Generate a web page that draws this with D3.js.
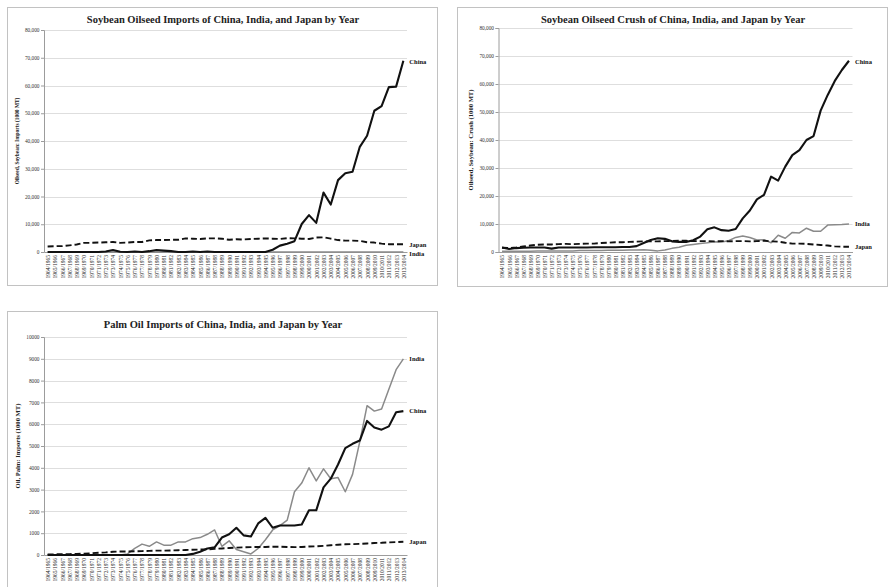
<!DOCTYPE html>
<html>
<head>
<meta charset="utf-8">
<script src="https://cdn.jsdelivr.net/npm/d3@7"></script>
<style>
  body { margin: 0; background: #fff; }
  svg { display: block; font-family: "Liberation Serif", "Times New Roman", serif; }
  svg text { font-family: "Liberation Serif", "Times New Roman", serif; }
</style>
</head>
<body>
<svg id="chart" width="889" height="587"></svg>
<script>
// Marketing years shown on every category axis
const marketingYears = [
  "1964/1965","1965/1966","1966/1967","1967/1968","1968/1969","1969/1970","1970/1971","1971/1972","1972/1973","1973/1974",
  "1974/1975","1975/1976","1976/1977","1977/1978","1978/1979","1979/1980","1980/1981","1981/1982","1982/1983","1983/1984",
  "1984/1985","1985/1986","1986/1987","1987/1988","1988/1989","1989/1990","1990/1991","1991/1992","1992/1993","1993/1994",
  "1994/1995","1995/1996","1996/1997","1997/1998","1998/1999","1999/2000","2000/2001","2001/2002","2002/2003","2003/2004",
  "2004/2005","2005/2006","2006/2007","2007/2008","2008/2009","2009/2010","2010/2011","2011/2012","2012/2013","2013/2014"
];

// Soybean oilseed imports, 1000 MT
const soyImportChina = [
  0,0,0,0,0,0,0,0,200,700,
  100,0,200,0,300,700,500,300,0,0,
  200,0,200,0,0,0,0,0,0,0,
  0,800,2300,3000,3900,10100,13300,10500,21400,17100,
  25900,28400,28900,37900,41900,50900,52600,59400,59600,68900
];
const soyImportIndia = [
  0,0,0,0,0,0,0,0,0,0,
  0,0,0,0,0,0,0,0,0,0,
  0,0,0,0,0,0,0,0,0,0,
  0,0,0,0,0,0,0,0,0,0,
  0,0,0,0,0,0,0,0,0,0
];
const soyImportJapan = [
  2000,2100,2100,2400,2700,3300,3300,3400,3500,3600,
  3300,3400,3600,3600,4200,4300,4300,4400,4400,4900,
  4800,4700,4900,4900,4800,4400,4600,4500,4700,4800,
  4900,4800,4700,5000,4900,4800,4700,5200,5300,4800,
  4300,4100,4100,4000,3500,3400,3000,2800,2800,2800
];

// Soybean oilseed crush, 1000 MT
const soyCrushChina = [
  1600,1100,1400,1500,1600,1600,1600,1200,1600,1600,
  1600,1600,1600,1700,1700,1700,1700,1800,1800,2100,
  3200,4300,4900,4700,3800,3600,3600,4200,5500,8100,
  8800,7800,7600,8200,12000,14800,18800,20400,26900,25500,
  30500,34600,36400,40000,41400,50500,56100,61100,65000,68300
];
const soyCrushIndia = [
  300,300,300,300,300,400,400,400,400,400,
  400,500,500,500,500,600,600,600,700,700,
  800,600,400,700,1300,1700,2400,2700,3000,3300,
  3700,3600,4000,5200,5700,5200,4300,4400,3300,6000,
  4900,7000,6800,8500,7400,7400,9600,9700,9800,10000
];
const soyCrushJapan = [
  1500,1400,1600,2000,2300,2600,2700,2700,2800,2900,
  2800,2900,3000,3000,3200,3300,3500,3500,3600,3700,
  3800,3800,3800,3900,3900,4000,4000,3900,3900,3900,
  3800,3900,3800,3900,3900,3800,3900,4000,3800,3700,
  3300,3000,3000,2900,2700,2500,2300,2000,1900,1900
];

// Palm oil imports, 1000 MT
const palmImportChina = [
  0,0,0,0,0,0,0,0,0,0,
  0,0,0,0,0,0,0,0,0,0,
  50,150,300,350,800,950,1250,900,850,1450,
  1700,1250,1350,1350,1350,1400,2050,2050,3100,3500,
  4150,4900,5100,5250,6150,5850,5750,5900,6550,6600
];
const palmImportIndia = [
  0,0,0,0,0,0,0,0,0,0,
  0,50,300,500,400,600,450,450,600,600,
  750,800,950,1150,400,650,250,150,50,300,
  700,1150,1350,1600,2900,3300,4000,3400,3950,3500,
  3550,2900,3700,5200,6850,6600,6700,7600,8500,9000
];
const palmImportJapan = [
  30,30,40,40,50,60,80,100,120,150,
  160,160,170,180,190,200,200,210,220,230,
  240,250,260,280,300,320,340,350,360,370,
  370,380,380,370,360,370,390,400,420,450,
  470,490,500,510,530,550,560,580,590,610
];

// Value-axis ticks
const soyTicks = [0,10000,20000,30000,40000,50000,60000,70000,80000];
const palmTicks = [0,1000,2000,3000,4000,5000,6000,7000,8000,9000,10000];

const serif = "Liberation Serif, Times New Roman, serif";
const svg = d3.select("#chart");

const styleChina = { color: "#111", width: 2.1, dash: null };
const styleIndia = { color: "#8a8a8a", width: 1.5, dash: null };
const styleJapan = { color: "#111", width: 1.9, dash: "6,3" };

const panels = [
  {
    title: "Soybean Oilseed Imports of China, India, and Japan by Year",
    titleX: 223, titleY: 23,
    yLabel: "Oilseed, Soybean: Imports (1000 MT)", yLabelX: 17, yLabelSize: 5.4,
    box: [7, 7, 430, 278],
    xRange: [44, 407], yRange: [252, 30], yMax: 80000,
    ticks: soyTicks, fmt: d3.format(","),
    series: [
      { name: "India", values: soyImportIndia, style: styleIndia, dy: 1.5 },
      { name: "Japan", values: soyImportJapan, style: styleJapan, dy: 0 },
      { name: "China", values: soyImportChina, style: styleChina, dy: 1 }
    ]
  },
  {
    title: "Soybean Oilseed Crush of China, India, and Japan by Year",
    titleX: 673, titleY: 23,
    yLabel: "Oilseed, Soybean: Crush (1000 MT)", yLabelX: 470.5, yLabelSize: 6.6,
    box: [457, 7, 430, 279],
    xRange: [498.5, 852.5], yRange: [252, 28], yMax: 80000,
    ticks: soyTicks, fmt: d3.format(","),
    series: [
      { name: "India", values: soyCrushIndia, style: styleIndia, dy: 0 },
      { name: "Japan", values: soyCrushJapan, style: styleJapan, dy: 0 },
      { name: "China", values: soyCrushChina, style: styleChina, dy: 1 }
    ]
  },
  {
    title: "Palm Oil Imports of China, India, and Japan by Year",
    titleX: 223, titleY: 328,
    yLabel: "Oil, Palm: Imports (1000 MT)", yLabelX: 18, yLabelSize: 6.6,
    box: [7, 311, 430, 300],
    xRange: [44, 407], yRange: [555, 337], yMax: 10000,
    ticks: palmTicks, fmt: d3.format("d"),
    series: [
      { name: "India", values: palmImportIndia, style: styleIndia, dy: 0 },
      { name: "Japan", values: palmImportJapan, style: styleJapan, dy: 0 },
      { name: "China", values: palmImportChina, style: styleChina, dy: 0 }
    ]
  }
];

function drawPanel(p) {
  const g = svg.append("g");

  g.append("rect")
    .attr("x", p.box[0] + 0.5).attr("y", p.box[1] + 0.5)
    .attr("width", p.box[2]).attr("height", p.box[3])
    .attr("fill", "#fff").attr("stroke", "#c2c2c2").attr("stroke-width", 1);

  const x = d3.scalePoint().domain(marketingYears).range(p.xRange).padding(0.5);
  const y = d3.scaleLinear().domain([0, p.yMax]).range(p.yRange);

  // horizontal gridlines
  g.append("g").selectAll("line")
    .data(p.ticks.slice(1))
    .join("line")
    .attr("x1", p.xRange[0]).attr("x2", p.xRange[1])
    .attr("y1", d => Math.round(y(d)) + 0.5).attr("y2", d => Math.round(y(d)) + 0.5)
    .attr("stroke", "#dedede").attr("stroke-width", 1);

  // value axis
  const ya = g.append("g")
    .attr("transform", `translate(${p.xRange[0]},0)`)
    .call(d3.axisLeft(y).tickValues(p.ticks).tickFormat(p.fmt).tickSize(3).tickPadding(1.5));
  ya.attr("font-family", serif);
  ya.select(".domain").attr("stroke", "#9c9c9c");
  ya.selectAll(".tick line").attr("stroke", "#9c9c9c");
  ya.selectAll(".tick text")
    .attr("font-size", 5.3).attr("fill", "#333")
    .attr("font-family", serif);

  // category axis
  const xa = g.append("g")
    .attr("transform", `translate(0,${p.yRange[0]})`)
    .call(d3.axisBottom(x).tickSize(0).tickPadding(3));
  xa.attr("font-family", serif);
  xa.select(".domain").attr("stroke", "#9c9c9c");
  xa.selectAll(".tick text")
    .attr("transform", "rotate(-90)")
    .attr("x", -3).attr("y", 0).attr("dy", "0.35em")
    .attr("text-anchor", "end")
    .attr("font-size", 5.5).attr("fill", "#2a2a2a")
    .attr("font-family", serif);

  // series lines
  const line = d3.line()
    .x((d, i) => x(marketingYears[i]))
    .y(d => y(d));

  p.series.forEach(s => {
    g.append("path")
      .datum(s.values)
      .attr("d", line)
      .attr("fill", "none")
      .attr("stroke", s.style.color)
      .attr("stroke-width", s.style.width)
      .attr("stroke-linejoin", "round")
      .attr("stroke-dasharray", s.style.dash);
  });

  // end-of-line series names
  p.series.forEach(s => {
    const last = s.values.length - 1;
    g.append("text")
      .attr("x", x(marketingYears[last]) + 6)
      .attr("y", y(s.values[last]) + s.dy)
      .attr("dy", "0.35em")
      .attr("font-family", serif)
      .attr("font-size", 6.5).attr("font-weight", "bold").attr("fill", "#111")
      .text(s.name);
  });

  // title
  g.append("text")
    .attr("x", p.titleX).attr("y", p.titleY)
    .attr("text-anchor", "middle")
    .attr("font-family", serif)
    .attr("font-size", 10.5).attr("font-weight", "bold").attr("fill", "#222")
    .text(p.title);

  // value-axis title
  const cy = (p.yRange[0] + p.yRange[1]) / 2;
  g.append("text")
    .attr("transform", `translate(${p.yLabelX},${cy}) rotate(-90)`)
    .attr("text-anchor", "middle").attr("dy", "0.35em")
    .attr("font-family", serif)
    .attr("font-size", p.yLabelSize).attr("font-weight", "bold").attr("fill", "#222")
    .text(p.yLabel);
}

panels.forEach(drawPanel);
</script>
</body>
</html>
